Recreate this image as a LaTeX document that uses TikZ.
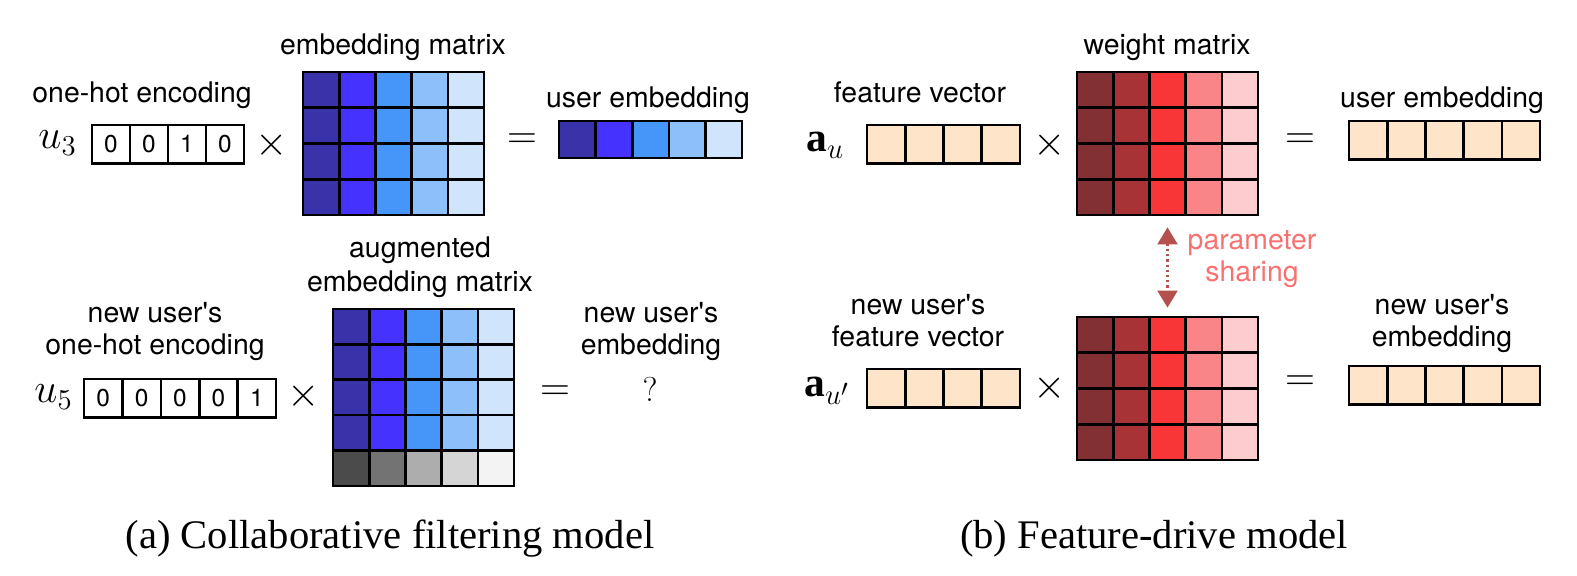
\documentclass[tikz,border=0pt]{standalone}
\usepackage{fontspec}
\setmainfont{Liberation Serif}
\newfontfamily\helv{TeX Gyre Heros}
\usetikzlibrary{arrows.meta,fit}

\definecolor{bA}{HTML}{3A32A8}
\definecolor{bB}{HTML}{4632FE}
\definecolor{bC}{HTML}{4596F8}
\definecolor{bD}{HTML}{8DC0FA}
\definecolor{bE}{HTML}{D0E4FC}
\definecolor{gA}{HTML}{4B4B4B}
\definecolor{gB}{HTML}{737373}
\definecolor{gC}{HTML}{ADADAD}
\definecolor{gD}{HTML}{D5D5D5}
\definecolor{gE}{HTML}{F3F3F3}
\definecolor{rA}{HTML}{833035}
\definecolor{rB}{HTML}{A83337}
\definecolor{rC}{HTML}{F83537}
\definecolor{rD}{HTML}{F98588}
\definecolor{rE}{HTML}{FDCCCF}
\definecolor{peach}{HTML}{FEE5CA}
\definecolor{arrowCol}{HTML}{B4504E}
\definecolor{shareText}{HTML}{F77171}

\tikzset{
  cell/.style={draw=black, line width=1.3pt},
  lbl/.style={font=\helv\fontsize{14.2}{17}\selectfont, inner sep=0pt, anchor=base},
  digit/.style={font=\helv\fontsize{12.2}{14}\selectfont, inner sep=0pt},
  op/.style={font=\fontsize{20.74}{24}\selectfont, inner sep=0pt},
  sym/.style={font=\fontsize{20.74}{24}\selectfont, inner sep=0pt, anchor=base west},
  qmark/.style={font=\fontsize{17.28}{20}\selectfont, inner sep=0pt, anchor=base},
  captxt/.style={font=\fontsize{20.3}{24}\selectfont, inner sep=0pt, anchor=base},
  sharelbl/.style={lbl, text=shareText},
  sharearrow/.style={draw=arrowCol, line width=1.1pt, dash pattern=on 1.1pt off 1.5pt,
    {Triangle[width=10pt,length=8.5pt]}-{Triangle[width=10pt,length=8.5pt]},
    shorten <=6pt, shorten >=4.5pt},
}

% name, x0, y0, cell w, cell h, ncols, nrows, column colours
\newcommand{\cellblock}[8]{%
  \foreach \cc [count=\ci from 0] in {#8} {%
    \foreach \rj in {1,...,#7} {%
      \draw[cell, fill=\cc] ({#2+\ci*#4},{#3+(\rj-1)*#5}) rectangle ++(#4,#5);
    }%
  }%
  \coordinate (#1-nw) at (#2,#3);
  \coordinate (#1-se) at ({#2+#6*#4},{#3+#7*#5});
  \node[fit=(#1-nw)(#1-se), inner sep=0pt] (#1) {};
}

\begin{document}
\begin{tikzpicture}[x=0.5pt, y=-0.5pt]
\useasboundingbox (0,0) rectangle (1577,576);

% ---------- (a) top row ----------
\node[lbl] (lemb) at (393,55) {embedding matrix};
\node[lbl] (lone) at (142,103) {one-hot encoding};
\node[lbl] (luser) at (648,108) {user embedding};
\node[sym] (u3) at (38,149) {$u_3$};
\cellblock{v1}{92}{125}{38}{38.5}{4}{1}{white,white,white,white}
\foreach \d [count=\ci from 0] in {0,0,1,0}
  \node[digit] (v1d\ci) at ({92+(\ci+0.5)*38},{125+19.25}) {\d};
\node[op] (x1) at (272,145) {$\times$};
\cellblock{M1}{303}{72}{36.2}{35.75}{5}{4}{bA,bB,bC,bD,bE}
\node[op] (e1) at (522,141) {$=$};
\cellblock{E1}{559}{121}{36.6}{37}{5}{1}{bA,bB,bC,bD,bE}

% ---------- (a) bottom row ----------
\node[lbl] (laug1) at (420,258) {augmented};
\node[lbl] (laug2) at (420,292) {embedding matrix};
\node[lbl] (lnew1) at (155,323) {new user's};
\node[lbl] (lnew2) at (155,355) {one-hot encoding};
\node[lbl] (lnewe1) at (651,323) {new user's};
\node[lbl] (lnewe2) at (651,355) {embedding};
\node[sym] (u5) at (34,403) {$u_5$};
\cellblock{v2}{84}{379}{38.4}{38.5}{5}{1}{white,white,white,white,white}
\foreach \d [count=\ci from 0] in {0,0,0,0,1}
  \node[digit] (v2d\ci) at ({84+(\ci+0.5)*38.4},{379+19.25}) {\d};
\node[op] (x2) at (304,396) {$\times$};
\cellblock{M2}{333}{309}{36.2}{35.4}{5}{4}{bA,bB,bC,bD,bE}
\cellblock{M2g}{333}{450.6}{36.2}{35.4}{5}{1}{gA,gB,gC,gD,gE}
\node[op] (e2) at (555,393) {$=$};
\node[qmark] (q) at (650,402) {$?$};

% ---------- (b) top row ----------
\node[lbl] (lw) at (1167,55) {weight matrix};
\node[lbl] (lfv) at (920,103) {feature vector};
\node[lbl] (lue) at (1442,108) {user embedding};
\node[sym] (au) at (806,152) {$\mathbf{a}_u$};
\cellblock{F1}{867}{125}{38.25}{38.5}{4}{1}{peach,peach,peach,peach}
\node[op] (x3) at (1050,145) {$\times$};
\cellblock{R1}{1077}{72}{36.2}{35.75}{5}{4}{rA,rB,rC,rD,rE}
\node[op] (e3) at (1300,141) {$=$};
\cellblock{E2}{1349}{121}{38.2}{38.5}{5}{1}{peach,peach,peach,peach,peach}

% ---------- (b) bottom row ----------
\node[lbl] (lnf1) at (918,315) {new user's};
\node[lbl] (lnf2) at (918,347) {feature vector};
\node[lbl] (lne1) at (1442,315) {new user's};
\node[lbl] (lne2) at (1442,347) {embedding};
\node[sym] (aup) at (804,397) {$\mathbf{a}_{u'}$};
\cellblock{F2}{867}{369}{38.25}{38.5}{4}{1}{peach,peach,peach,peach}
\node[op] (x4) at (1050,388) {$\times$};
\cellblock{R2}{1077}{317}{36.2}{35.75}{5}{4}{rA,rB,rC,rD,rE}
\node[op] (e4) at (1300,383) {$=$};
\cellblock{E3}{1349}{366}{38.2}{38.5}{5}{1}{peach,peach,peach,peach,peach}

% parameter sharing
\draw[sharearrow] (R1.south) -- (R2.north);
\node[sharelbl] (ps1) at (1252,250) {parameter};
\node[sharelbl] (ps2) at (1252,282) {sharing};

% captions
\node[captxt] (capa) at (390,548) {(a) Collaborative filtering model};
\node[captxt] (capb) at (1154,548) {(b) Feature-drive model};
\end{tikzpicture}
\end{document}
